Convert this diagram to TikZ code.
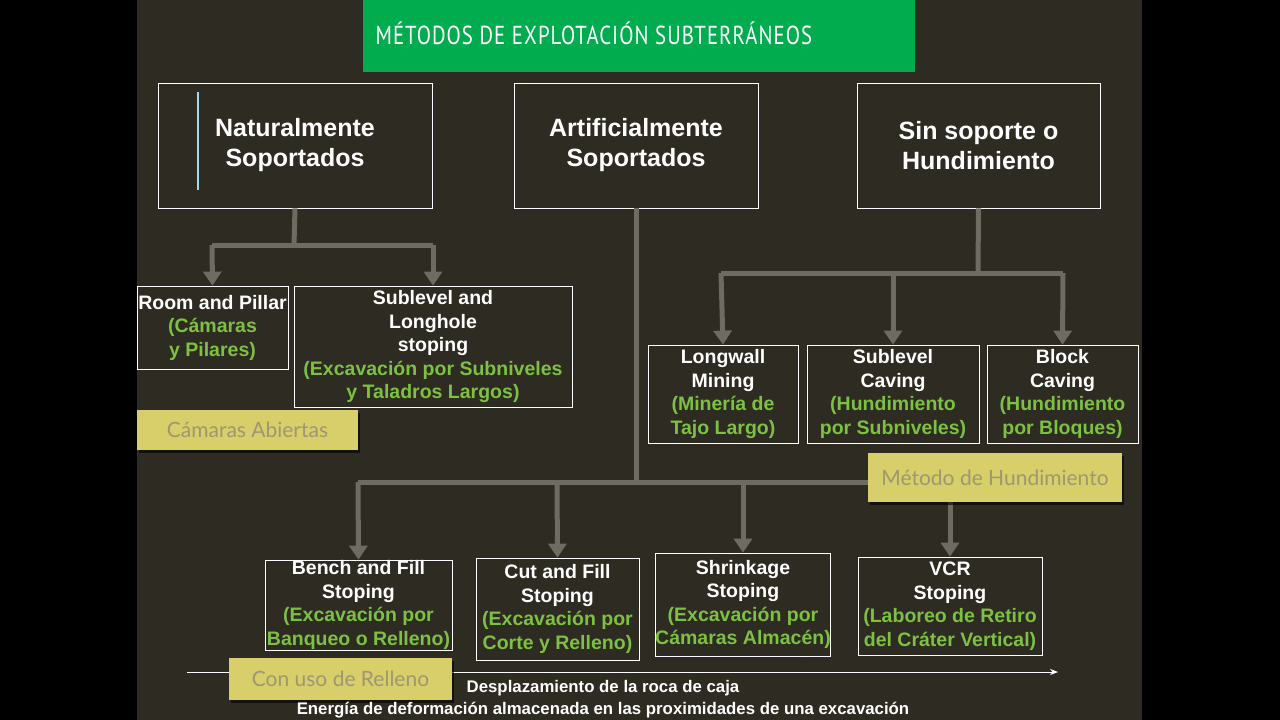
\documentclass[tikz,border=0pt]{standalone}
\usepackage{fontspec}
\setmainfont{Liberation Sans}
\newfontfamily\titlefont[FakeStretch=0.8]{PT Sans}
\newfontfamily\labfont{Lato}
\usetikzlibrary{arrows.meta,shadows}
\definecolor{bg}{HTML}{2E2B22}
\definecolor{conn}{HTML}{6E6B62}
\definecolor{grn}{HTML}{7DC142}
\definecolor{ttl}{HTML}{00AC4E}
\definecolor{yel}{HTML}{D8CE6A}
\definecolor{ytxt}{HTML}{9E9870}
\tikzset{
 box/.style={draw=white,line width=0.8pt,inner sep=0pt,align=center,text=white,font=\bfseries\fontsize{19.5}{23.5}\selectfont},
 big/.style={box,font=\bfseries\fontsize{25}{30}\selectfont},
 conn/.style={draw=conn,line width=5pt},
 arr/.style={conn,-{Triangle[length=14pt,width=18pt]}},
 ylab/.style={fill=yel,inner sep=0pt,text=ytxt,font=\labfont\fontsize{21}{24}\selectfont,drop shadow={shadow xshift=2pt,shadow yshift=-3pt,fill=black,opacity=0.6}},
}
\newcommand{\gr}[1]{\textcolor{grn}{#1}}
\begin{document}
\begin{tikzpicture}[x=1pt,y=-1pt]
\useasboundingbox (0,0) rectangle (1280,720);
\fill[black] (0,0) rectangle (1280,720);
\fill[bg] (137,0) rectangle (1142,720);
\node[fill=ttl,minimum width=552,minimum height=72,inner sep=0pt,anchor=north west] (title) at (363,0) {};
\node[anchor=west,text=white,font=\titlefont\fontsize{26}{28}\selectfont] (tt) at (372,33) {\addfontfeature{LetterSpace=4}MÉTODOS DE EXPLOTACIÓN SUBTERRÁNEOS};
% top boxes
\node[big,minimum width=274,minimum height=125] (nat) at (295,145.5) {Naturalmente\\Soportados};
\draw[color=cyan!40!white,line width=1.2pt] (198,92) -- (198,190);
\node[big,minimum width=244,minimum height=125] (art) at (636,145.5) {Artificialmente\\Soportados};
\node[big,minimum width=243,minimum height=125] (sin) at (978.5,145.5) {Sin soporte o\\Hundimiento};
% second row
\node[box,minimum width=151,minimum height=83] (room) at (212.5,327.5) {Room and Pillar\\\gr{(Cámaras}\\\gr{y Pilares)}};
\node[box,minimum width=278,minimum height=121] (sub) at (433,346.5) {Sublevel and\\Longhole\\stoping\\\gr{(Excavación por Subniveles}\\\gr{y Taladros Largos)}};
\node[box,minimum width=150,minimum height=98] (long) at (723,394) {Longwall\\Mining\\\gr{(Minería de}\\\gr{Tajo Largo)}};
\node[box,minimum width=172,minimum height=98] (subc) at (893,394) {Sublevel\\Caving\\\gr{(Hundimiento}\\\gr{por Subniveles)}};
\node[box,minimum width=151,minimum height=98] (blk) at (1062.5,394) {Block\\Caving\\\gr{(Hundimiento}\\\gr{por Bloques)}};
% bottom row
\node[box,minimum width=187,minimum height=90] (bench) at (358.5,605) {Bench and Fill\\Stoping\\\gr{(Excavación por}\\\gr{Banqueo o Relleno)}};
\node[box,minimum width=163,minimum height=102] (cut) at (557.5,609) {Cut and Fill\\Stoping\\\gr{(Excavación por}\\\gr{Corte y Relleno)}};
\node[box,minimum width=174,minimum height=103] (shr) at (743,604.5) {Shrinkage\\Stoping\\\gr{(Excavación por}\\\gr{Cámaras Almacén)}};
\node[box,minimum width=184,minimum height=98] (vcr) at (950,606) {VCR\\Stoping\\\gr{(Laboreo de Retiro}\\\gr{del Cráter Vertical)}};
% connectors
\coordinate (j1) at (294,245); \coordinate (j1l) at (212,245); \coordinate (j1r) at (433,245);
\draw[conn] (nat.south) -- (j1); \draw[conn] (j1l) -- (j1r);
\draw[arr] (j1l) -- (room.north); \draw[arr] (j1r) -- (sub.north);
\coordinate (j3) at (978,273); \coordinate (j3l) at (721,273); \coordinate (j3r) at (1063,273); \coordinate (j3m) at (893,273);
\draw[conn] (sin.south) -- (j3); \draw[conn] (j3l) -- (j3r);
\draw[arr] (j3l) -- (long.north); \draw[arr] (j3m) -- (subc.north); \draw[arr] (j3r) -- (blk.north);
\coordinate (j2) at (636,482); \coordinate (j2l) at (358,482); \coordinate (j2r) at (950,482);
\draw[conn] (art.south) -- (j2); \draw[conn] (j2l) -- (j2r);
\draw[arr] (j2l) -- (bench.north);
\coordinate (j2a) at (557,482); \coordinate (j2b) at (743,482);
\draw[arr] (j2a) -- (cut.north); \draw[arr] (j2b) -- (shr.north); \draw[arr] (j2r) -- (vcr.north);
% yellow labels
\node[ylab,minimum width=221,minimum height=40] (ca) at (247.5,430) {Cámaras Abiertas};
\node[ylab,minimum width=254,minimum height=49] (mh) at (995,477.5) {Método de Hundimiento};
% bottom axis
\coordinate (ax1) at (187,672); \coordinate (ax2) at (1058,672);
\draw[white,line width=0.8pt,-{Stealth[length=8pt,width=6pt]}] (ax1) -- (ax2);
\node[ylab,minimum width=223,minimum height=42] (cr) at (340.5,679) {Con uso de Relleno};
\node[text=white,font=\bfseries\fontsize{16.8}{18}\selectfont] (d1) at (603,688) {Desplazamiento de la roca de caja};
\node[text=white,font=\bfseries\fontsize{16.8}{18}\selectfont] (d2) at (603,710) {Energía de deformación almacenada en las proximidades de una excavación};
\end{tikzpicture}
\end{document}
